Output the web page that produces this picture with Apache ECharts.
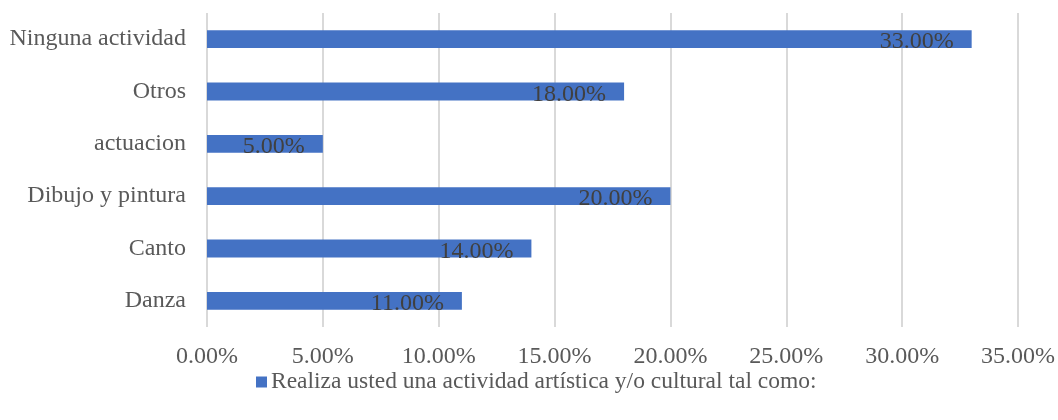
<!DOCTYPE html>
<html>
<head>
<meta charset="utf-8">
<script src="https://cdn.jsdelivr.net/npm/echarts@6/dist/echarts.min.js"></script>
<style>
  html, body { margin: 0; padding: 0; background: #fff; }
  #chart { width: 1058px; height: 420px; }
</style>
</head>
<body>
<div id="chart"></div>
<script>
// categories from bottom to top
const categories = ['Danza', 'Canto', 'Dibujo y pintura', 'actuacion', 'Otros', 'Ninguna actividad'];
const values = [11, 14, 20, 5, 18, 33];
const seriesName = 'Realiza usted una actividad artística y/o cultural tal como:';

const chart = echarts.init(document.getElementById('chart'));
const font = '"Liberation Serif", "Times New Roman", serif';

chart.setOption({
  animation: false,
  textStyle: { fontFamily: font },
  grid: { left: 207, right: 39, top: 13, bottom: 93 },
  legend: {
    data: [seriesName],
    bottom: 21,
    left: 251,
    icon: 'rect',
    itemWidth: 11,
    itemHeight: 11,
    itemGap: 6,
    textStyle: { fontFamily: font, fontSize: 23.5, color: '#595959', padding: [0, 0, 0, -1] }
  },
  xAxis: {
    type: 'value',
    min: 0,
    max: 35,
    interval: 5,
    axisLine: { show: false },
    axisTick: { show: false },
    axisLabel: {
      fontFamily: font, fontSize: 24, color: '#595959', margin: 18,
      formatter: v => v.toFixed(2) + '%'
    },
    splitLine: { lineStyle: { color: '#d9d9d9', width: 2 } }
  },
  yAxis: {
    type: 'category',
    data: categories,
    axisLine: { show: false },
    axisTick: { show: false },
    axisLabel: { fontFamily: font, fontSize: 24, color: '#595959', margin: 21 }
  },
  series: [{
    name: seriesName,
    type: 'bar',
    data: values,
    barWidth: '34%',
    itemStyle: { color: '#4472c4' },
    label: {
      show: true,
      position: 'insideRight',
      distance: 18,
      offset: [0, 3],
      fontFamily: font,
      fontSize: 24,
      color: '#404040',
      formatter: p => p.value.toFixed(2) + '%'
    }
  }]
});
</script>
</body>
</html>
